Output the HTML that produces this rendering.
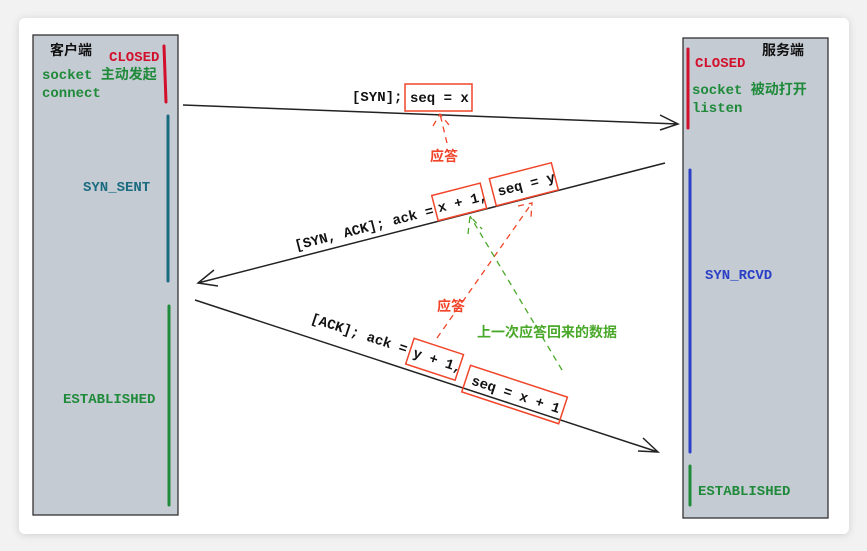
<!DOCTYPE html>
<html><head><meta charset="utf-8"><style>
html,body{margin:0;padding:0;background:#f2f2f2;}
svg{display:block}
text{font-family:"Liberation Mono","Noto Sans CJK SC",monospace;font-size:14px;font-weight:bold}
</style></head><body>
<svg width="867" height="551" viewBox="0 0 867 551">
<defs>
<filter id="sh" x="-5%" y="-5%" width="110%" height="110%"><feDropShadow dx="0" dy="1" stdDeviation="4" flood-opacity="0.15"/></filter>
</defs>
<rect x="19" y="18" width="830" height="516" rx="6" fill="#fff" filter="url(#sh)"/>
<g>
<rect x="33" y="35" width="145" height="480" fill="#c4cbd3" stroke="#333" stroke-width="1.3"/>
<text x="50" y="55" fill="#111" font-weight="normal">客户端</text>
<text x="109" y="61" fill="#d3102c">CLOSED</text>
<text x="42" y="79" fill="#1f8a3a">socket 主动发起</text>
<text x="42" y="97" fill="#1f8a3a">connect</text>
<text x="83" y="191" fill="#1a6b80">SYN_SENT</text>
<text x="63" y="403" fill="#1f8a3a">ESTABLISHED</text>
<line x1="164" y1="46" x2="166" y2="102" stroke="#d3102c" stroke-width="3" stroke-linecap="round"/>
<line x1="168" y1="116" x2="168" y2="281" stroke="#1a6b80" stroke-width="3" stroke-linecap="round"/>
<line x1="169" y1="306" x2="169" y2="505" stroke="#1f8a3a" stroke-width="3" stroke-linecap="round"/>
</g>
<g>
<rect x="683" y="38" width="145" height="480" fill="#c4cbd3" stroke="#333" stroke-width="1.3"/>
<text x="762" y="55" fill="#111" font-weight="normal">服务端</text>
<text x="695" y="67" fill="#d3102c">CLOSED</text>
<text x="692" y="94" fill="#1f8a3a">socket 被动打开</text>
<text x="692" y="112" fill="#1f8a3a">listen</text>
<text x="705" y="279" fill="#2b3fc7">SYN_RCVD</text>
<text x="698" y="495" fill="#1f8a3a">ESTABLISHED</text>
<line x1="688" y1="49" x2="688" y2="128" stroke="#d3102c" stroke-width="3" stroke-linecap="round"/>
<line x1="690" y1="170" x2="690" y2="452" stroke="#2b3fc7" stroke-width="3" stroke-linecap="round"/>
<line x1="690" y1="466" x2="690" y2="505" stroke="#1f8a3a" stroke-width="3" stroke-linecap="round"/>
</g>
<g>
<path d="M183 105 L678 124 M660 115 L678 124 L660 130" fill="none" stroke="#222" stroke-width="1.5"/>
<text x="352" y="101" fill="#111">[SYN];</text>
<rect x="405" y="84" width="67" height="27" fill="none" stroke="#f0452a" stroke-width="1.5"/>
<text x="410" y="102" fill="#111">seq = x</text>
</g>
<g>
<path d="M665 163 L198 283 M214 270 L198 283 L218 286" fill="none" stroke="#222" stroke-width="1.5"/>
<g transform="translate(296,250) rotate(-14.4)">
<text x="0" y="0" fill="#111">[SYN, ACK]; ack =</text>
<rect x="145" y="-19" width="50" height="26" fill="none" stroke="#f0452a" stroke-width="1.5"/>
<text x="148" y="-1" fill="#111">x + 1,</text>
<rect x="205" y="-21" width="64" height="28" fill="none" stroke="#f0452a" stroke-width="1.5"/>
<text x="210" y="-2" fill="#111">seq = y</text>
</g>
</g>
<g>
<path d="M195 300 L658 452 M638 451 L658 452 L643 438" fill="none" stroke="#222" stroke-width="1.5"/>
<g transform="translate(310,322) rotate(18.2)">
<text x="0" y="0" fill="#111">[ACK]; ack =</text>
<rect x="104" y="-17" width="52" height="27" fill="none" stroke="#f0452a" stroke-width="1.5"/>
<text x="108" y="1" fill="#111">y + 1,</text>
<rect x="166" y="-9" width="102" height="28" fill="none" stroke="#f0452a" stroke-width="1.5"/>
<text x="172" y="9" fill="#111">seq = x + 1</text>
</g>
</g>
<g>
<path d="M447 143 L440 114 M433 126 L440 114 L449 125" fill="none" stroke="#f0452a" stroke-width="1.3" stroke-dasharray="6 5"/>
<text x="430" y="161" fill="#f0452a" font-weight="normal">应答</text>
<path d="M437 338 L532 203 M518 206 L532 203 L531 217" fill="none" stroke="#f0452a" stroke-width="1.3" stroke-dasharray="6 5"/>
<text x="437" y="311" fill="#f0452a" font-weight="normal">应答</text>
<path d="M562 370 L470 216 M468 234 L470 216 L482 229" fill="none" stroke="#4aa82a" stroke-width="1.3" stroke-dasharray="6 5"/>
<text x="477" y="337" fill="#4aa82a" font-weight="normal">上一次应答回来的数据</text>
</g>
</svg>
</body></html>
